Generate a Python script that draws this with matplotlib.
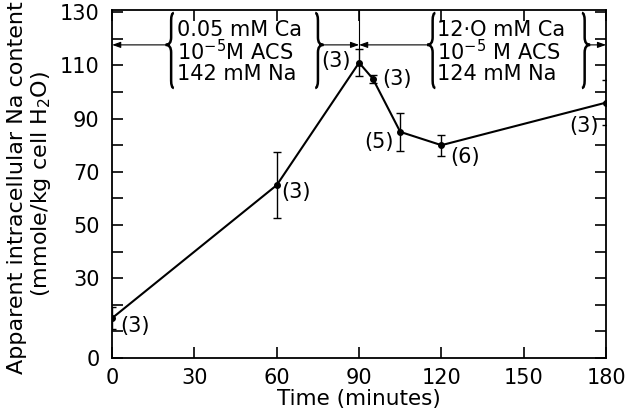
import matplotlib
matplotlib.use('Agg')
from matplotlib import pyplot as plt
from matplotlib.path import Path
from matplotlib.patches import PathPatch

# Data
time_min = [0, 60, 90, 95, 105, 120, 180]
na_content = [15, 65, 111, 105, 85, 80, 96]
na_error = [4, 12.5, 5, 1.5, 7, 4, 8.5]
n_labels = ['(3)', '(3)', '(3)', '(3)', '(5)', '(6)', '(3)']
# label offsets (points) and alignment for each n label
label_offsets = [(6, -6), (3.5, -5), (-6, 1.5), (6.5, 0), (-4.5, -7), (6, -8.5), (-5, -17)]
label_ha = ['left', 'left', 'right', 'left', 'right', 'left', 'right']

x_ticks = [0, 30, 60, 90, 120, 150, 180]
y_ticks = list(range(0, 140, 10))
y_tick_labels = ['0', '', '', '30', '', '50', '', '70', '', '90', '', '110', '', '130']

left_condition = ['0.05 mM Ca', r'10$^{-5}$M ACS', '142 mM Na']
right_condition = ['12\u00b7O mM Ca', r'10$^{-5}$ M ACS', '124 mM Na']

FS = 15
plt.rcParams['font.family'] = ['DejaVu Sans']
plt.rcParams['mathtext.fontset'] = 'dejavusans'


def brace(ax, x, y0, y1, ytip, tip_dir, w=2.0, lw=1.8):
    """Draw a vertical curly brace; tip_dir=-1 is '{', +1 is '}'."""
    d = tip_dir
    r = 0.1 * (y1 - y0)
    verts = [(x - d * w / 2, y1), (x, y1), (x, y1 - r),
             (x, ytip + r),
             (x, ytip), (x + d * w, ytip),
             (x, ytip), (x, ytip - r),
             (x, y0 + r),
             (x, y0), (x - d * w / 2, y0)]
    codes = [Path.MOVETO, Path.CURVE3, Path.CURVE3,
             Path.LINETO,
             Path.CURVE3, Path.CURVE3,
             Path.CURVE3, Path.CURVE3,
             Path.LINETO,
             Path.CURVE3, Path.CURVE3]
    ax.add_patch(PathPatch(Path(verts, codes), fill=False, lw=lw, color='black',
                           clip_on=False))


def arrow(ax, x_from, x_to, y):
    ax.annotate('', xy=(x_to, y), xytext=(x_from, y),
                arrowprops=dict(arrowstyle='-|>,head_length=0.5,head_width=0.18',
                                lw=0.8, color='black', shrinkA=0, shrinkB=0),
                annotation_clip=False)


fig = plt.figure(figsize=(6.3, 4.18), dpi=100)
ax = fig.add_axes([0.178, 0.1435, 0.784, 0.8325])

ax.errorbar(time_min, na_content, yerr=na_error, color='black', lw=1.5,
            marker='o', ms=4, capsize=3, elinewidth=1, capthick=1)

for t, v, lab, off, ha in zip(time_min, na_content, n_labels, label_offsets, label_ha):
    ax.annotate(lab, (t, v), xytext=off, textcoords='offset points',
                ha=ha, va='center', fontsize=FS)

ax.set_xlim(0, 180)
ax.set_ylim(0, 130.8)
ax.set_xticks(x_ticks)
ax.set_yticks(y_ticks)
ax.set_yticklabels(y_tick_labels)
ax.tick_params(direction='in', length=8, width=1.2, labelsize=FS,
               top=True, right=True)
ax.tick_params(axis='x', pad=7)
ax.tick_params(axis='y', pad=9)
for s in ax.spines.values():
    s.set_linewidth(1.3)

ax.set_xlabel('Time (minutes)', fontsize=15.5, labelpad=1)
fig.text(0.027, 0.55, 'Apparent intracellular Na content', rotation=90,
         ha='center', va='center', fontsize=16)
fig.text(0.065, 0.56, '(mmole/kg cell H$_2$O)', rotation=90,
         ha='center', va='center', fontsize=16)

# Condition annotations
arrow_y = 117.7
ax.text(23.5, 115.0, '\n'.join(left_condition), ha='left', va='center',
        fontsize=FS, linespacing=0.95)
ax.text(118.3, 115.0, '\n'.join(right_condition), ha='left', va='center',
        fontsize=FS, linespacing=0.95)

brace(ax, 21.5, 101.5, 129.7, arrow_y, -1)
brace(ax, 75.0, 101.5, 129.7, arrow_y, +1)
brace(ax, 116.8, 101.5, 129.7, arrow_y, -1)
brace(ax, 172.2, 101.5, 129.7, arrow_y, +1)

arrow(ax, 19.5, 0, arrow_y)
arrow(ax, 77.0, 90, arrow_y)
arrow(ax, 114.8, 90, arrow_y)
arrow(ax, 174.2, 180, arrow_y)
ax.plot([90, 90], [116, 130.8], color='black', lw=0.8)

fig.savefig('out.png', dpi=100)
plt.close(fig)
